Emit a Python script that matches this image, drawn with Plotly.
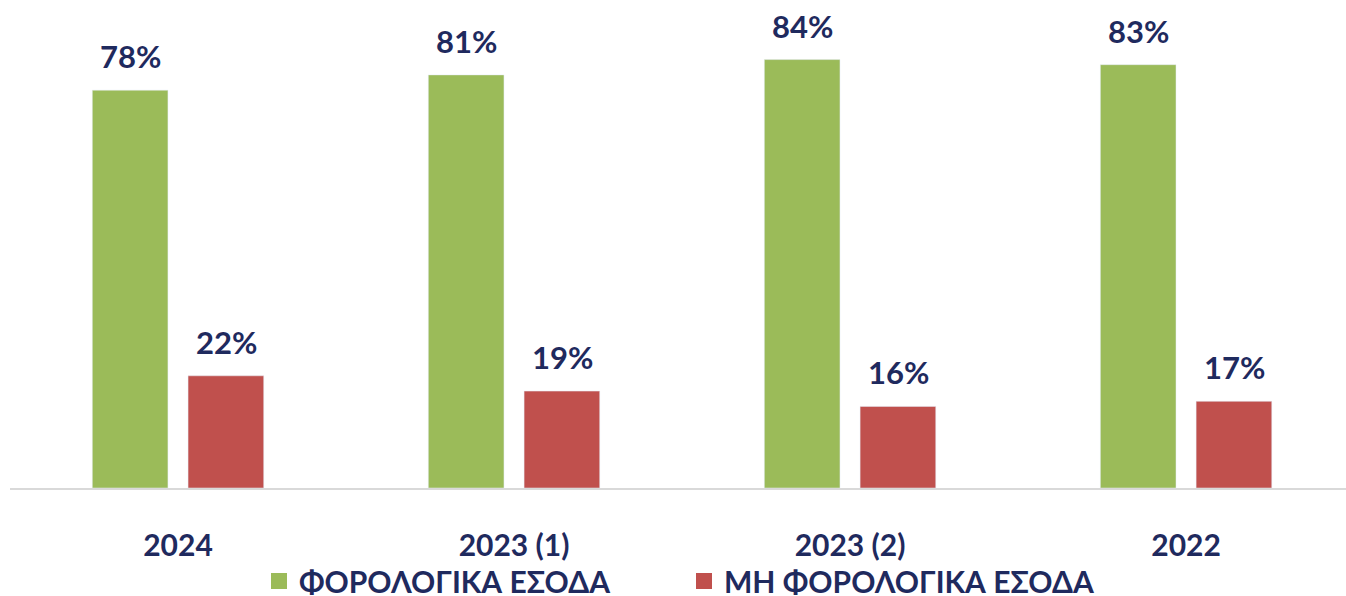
import plotly.graph_objects as go

years = ["2024", "2023 (1)", "2023 (2)", "2022"]
tax_share = [78, 81, 84, 83]
nontax_share = [22, 19, 16, 17]
series_names = ["ΦΟΡΟΛΟΓΙΚΑ ΕΣΟΔΑ", "ΜΗ ΦΟΡΟΛΟΓΙΚΑ ΕΣΟΔΑ"]

green = "#9BBB59"
red = "#C0504D"
navy = "#1F2A5E"
font_name = "Lato"

W, H = 1346, 596

fig = go.Figure()
for name, vals, col, shift in [(series_names[0], tax_share, green, -48),
                               (series_names[1], nontax_share, red, 48)]:
    fig.add_trace(go.Bar(x=years, y=vals, name=name, marker_color=col, showlegend=False))
    # legend entry with bigger square swatch
    fig.add_trace(go.Scatter(
        x=[None], y=[None], mode="markers", name=name,
        marker=dict(symbol="square", size=20, color=col),
    ))
    for i, v in enumerate(vals):
        fig.add_annotation(x=i, y=v, text=f"{v}%", showarrow=False,
                           xshift=shift, yshift=13, yanchor="bottom",
                           font=dict(family=font_name, size=31, color=navy, weight="bold"))

fig.update_layout(
    width=W, height=H,
    margin=dict(l=10, r=0, t=30, b=108, autoexpand=False),
    plot_bgcolor="white", paper_bgcolor="white",
    barmode="group", bargap=0.43, bargroupgap=0.21,
    font=dict(family=font_name, color=navy),
    legend=dict(orientation="h", xref="container", x=259/W, xanchor="left",
                yref="container", y=15/H, yanchor="middle", bgcolor="rgba(0,0,0,0)",
                font=dict(family=font_name, size=30, color=navy, weight="bold"),
                itemwidth=30, entrywidth=380, traceorder="normal"),
    xaxis=dict(type="category", showgrid=False, showline=True, linecolor="#D9D9D9", linewidth=2,
               ticks="outside", ticklen=30, tickcolor="rgba(0,0,0,0)", automargin=False,
               tickfont=dict(family=font_name, size=30, color=navy, weight="bold"),
               range=[-0.5, 3.476]),
    yaxis=dict(visible=False, range=[0, 89.8]),
)

# drop the default 8px body margin so the figure fills the window
fig.write_html("out.html", config={"displayModeBar": False},
               post_script="document.body.style.margin='0';")
